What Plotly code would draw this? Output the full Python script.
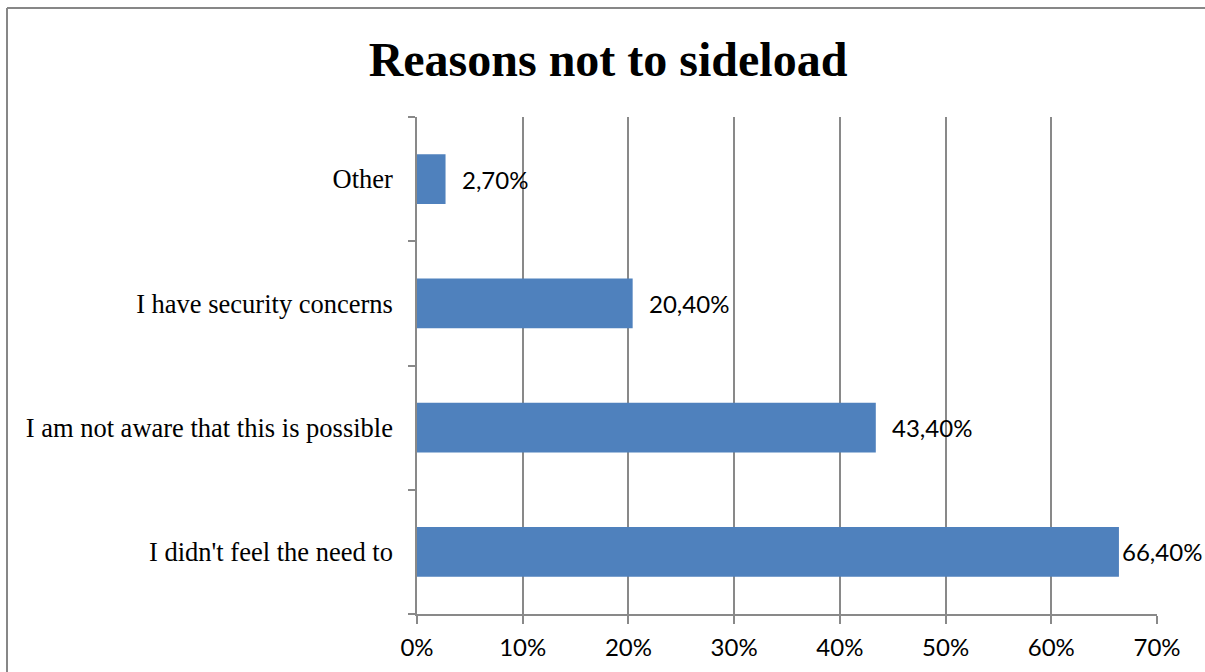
import plotly.graph_objects as go

# Survey answers, bottom to top
reasons = [
    "I didn't feel the need to",
    "I am not aware that this is possible",
    "I have security concerns",
    "Other",
]
shares = [66.4, 43.4, 20.4, 2.7]  # percent of respondents
x_ticks = [0, 10, 20, 30, 40, 50, 60, 70]
x_tick_labels = ["0%", "10%", "20%", "30%", "40%", "50%", "60%", "70%"]

W, H = 1205, 672
L, R, T, B = 417, 48, 117, 58
plot_w = W - L - R
plot_h = H - T - B

GRID = "#898989"
BAR = "#4F81BD"
SANS = "Lato, 'Open Sans', sans-serif"
SERIF = "'Liberation Serif', 'Times New Roman', serif"

fig = go.Figure(
    go.Bar(
        x=shares,
        y=reasons,
        orientation="h",
        marker=dict(color=BAR, line=dict(width=0)),
        width=0.4,
        hoverinfo="skip",
    )
)

# value labels to the right of each bar, kept inside the chart frame
for reason, v in zip(reasons, shares):
    label = f"{v:.2f}".replace(".", ",") + "%"
    near_edge = v > 64
    fig.add_annotation(
        x=v, y=reason, xref="x", yref="y",
        text=label, showarrow=False,
        xanchor="left", yanchor="middle",
        xshift=1 if near_edge else 14,
        font=dict(family=SANS, size=24, color="#000000"),
    )

# outer frame of the chart (top and left edges fall inside the page)
def px_to_paper_x(px):
    return (px - L) / plot_w

def px_to_paper_y(py):
    return (H - B - py) / plot_h

frame = dict(color="#878787", width=2)
fig.add_shape(
    type="line", xref="paper", yref="paper",
    x0=px_to_paper_x(7), x1=px_to_paper_x(W + 20),
    y0=px_to_paper_y(8), y1=px_to_paper_y(8),
    line=frame, layer="below",
)
fig.add_shape(
    type="line", xref="paper", yref="paper",
    x0=px_to_paper_x(7), x1=px_to_paper_x(7),
    y0=px_to_paper_y(8), y1=px_to_paper_y(H + 20),
    line=frame, layer="below",
)

fig.update_layout(
    width=W, height=H,
    margin=dict(l=L, r=R, t=T, b=B, pad=0, autoexpand=False),
    paper_bgcolor="white", plot_bgcolor="white",
    showlegend=False,
    title=dict(
        text="<b>Reasons not to sideload</b>",
        x=608 / W, xanchor="center",
        y=1 - 59 / H, yanchor="middle",
        font=dict(family=SERIF, size=48, color="#000000"),
    ),
    xaxis=dict(
        range=[0, 70],
        tickvals=x_ticks, ticktext=x_tick_labels,
        showgrid=True, gridcolor=GRID, gridwidth=1.5,
        showline=True, linecolor=GRID, linewidth=1.5,
        ticks="outside", ticklen=8, tickcolor=GRID, tickwidth=1.5,
        tickfont=dict(family=SANS, size=24, color="#000000"),
        ticklabelstandoff=3,
        automargin=False,
        zeroline=False, fixedrange=True,
    ),
    yaxis=dict(
        categoryorder="array", categoryarray=reasons,
        range=[-0.5, 3.5],
        tickson="boundaries",
        ticks="outside", ticklen=7, tickcolor=GRID, tickwidth=1.5,
        showgrid=False,
        showline=True, linecolor=GRID, linewidth=1.5,
        tickfont=dict(family=SERIF, size=26.5, color="#000000"),
        ticklabelstandoff=17,
        automargin=False,
        zeroline=False, fixedrange=True,
    ),
)

fig.write_html("out.html")
